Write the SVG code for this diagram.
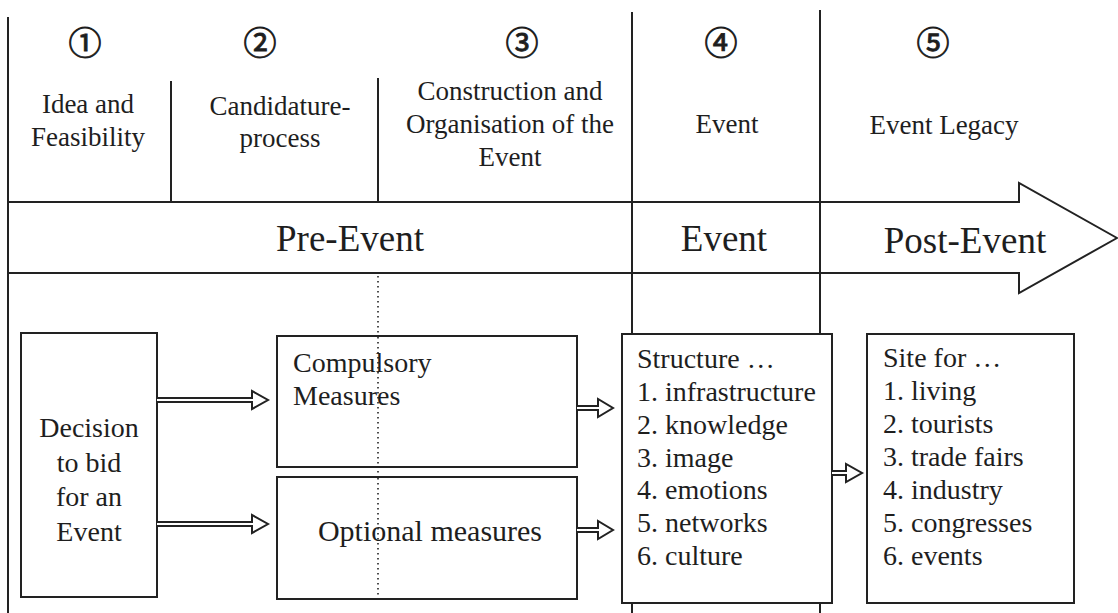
<svg xmlns="http://www.w3.org/2000/svg" width="1118" height="613" viewBox="0 0 1118 613">
<style>
.ln{stroke:#222;stroke-width:2;fill:none}
.box{stroke:#222;stroke-width:2;fill:#fff}
.dot{stroke:#222;stroke-width:1.6;stroke-dasharray:1.6 3.4;fill:none}
.conn{stroke:#222;stroke-width:2;fill:#fff;stroke-linejoin:miter}
text{font-family:"Liberation Serif","Times New Roman",serif;fill:#1e1e1e}
.hd{font-size:27px;text-anchor:middle}
.num{font-family:"Noto Sans CJK SC","DejaVu Sans",sans-serif;font-size:33px;text-anchor:middle;dominant-baseline:central;stroke:#1e1e1e;stroke-width:0.9}
.band{font-size:37px;text-anchor:middle}
.bx{font-size:28px}
.mid{text-anchor:middle}
</style>
<rect width="1118" height="613" fill="#fff"/>
<g id="grid">
<line class="ln" x1="8" y1="17" x2="8" y2="613"/>
<line class="ln" x1="171" y1="81" x2="171" y2="202"/>
<line class="ln" x1="378" y1="78" x2="378" y2="202"/>
<line class="dot" x1="378" y1="276" x2="378" y2="596"/>
<line class="ln" x1="632" y1="12" x2="632" y2="613"/>
<line class="ln" x1="820" y1="10" x2="820" y2="613"/>
</g>
<g id="phase-arrow">
<path class="ln" d="M8,202 H1019 V183 L1117,238 L1019,293 V273 H8"/>
<line class="ln" x1="632" y1="202" x2="632" y2="273"/>
<line class="ln" x1="820" y1="202" x2="820" y2="273"/>
<text class="band" x="350" y="251">Pre-Event</text>
<text class="band" x="724" y="251">Event</text>
<text class="band" x="965" y="253">Post-Event</text>
</g>
<g id="phase1">
<text class="num" x="85" y="41">①</text>
<text class="hd" x="88" y="113">Idea and</text>
<text class="hd" x="88" y="146">Feasibility</text>
</g>
<g id="phase2">
<text class="num" x="260" y="41">②</text>
<text class="hd" x="280" y="115">Candidature-</text>
<text class="hd" x="280" y="147">process</text>
</g>
<g id="phase3">
<text class="num" x="522" y="41">③</text>
<text class="hd" x="510" y="100">Construction and</text>
<text class="hd" x="510" y="133">Organisation of the</text>
<text class="hd" x="510" y="166">Event</text>
</g>
<g id="phase4">
<text class="num" x="721" y="41">④</text>
<text class="hd" x="727" y="133">Event</text>
</g>
<g id="phase5">
<text class="num" x="933" y="41">⑤</text>
<text class="hd" x="944" y="134">Event Legacy</text>
</g>
<g id="decision">
<rect class="box" x="21" y="333" width="136" height="264"/>
<text class="bx mid" x="89" y="437">Decision</text>
<text class="bx mid" x="89" y="472">to bid</text>
<text class="bx mid" x="89" y="506">for an</text>
<text class="bx mid" x="89" y="541">Event</text>
</g>
<g id="compulsory">
<rect class="box" x="277" y="336" width="300" height="131"/>
<line class="dot" x1="378" y1="337" x2="378" y2="466"/>
<text class="bx" x="293" y="372">Compulsory</text>
<text class="bx" x="293" y="405">Measures</text>
</g>
<g id="optional">
<rect class="box" x="277" y="477" width="300" height="122"/>
<line class="dot" x1="378" y1="478" x2="378" y2="596"/>
<text class="mid" x="430" y="541" font-size="30">Optional measures</text>
</g>
<g id="structure">
<rect class="box" x="622" y="334" width="210" height="269"/>
<text class="bx" x="637" y="368">Structure …</text>
<text class="bx" x="637" y="401">1. infrastructure</text>
<text class="bx" x="637" y="434">2. knowledge</text>
<text class="bx" x="637" y="467">3. image</text>
<text class="bx" x="637" y="499">4. emotions</text>
<text class="bx" x="637" y="532">5. networks</text>
<text class="bx" x="637" y="565">6. culture</text>
</g>
<g id="site">
<rect class="box" x="867" y="334" width="207" height="269"/>
<text class="bx" x="883" y="367">Site for …</text>
<text class="bx" x="883" y="400">1. living</text>
<text class="bx" x="883" y="433">2. tourists</text>
<text class="bx" x="883" y="466">3. trade fairs</text>
<text class="bx" x="883" y="499">4. industry</text>
<text class="bx" x="883" y="532">5. congresses</text>
<text class="bx" x="883" y="565">6. events</text>
</g>
<g id="connectors">
<path class="conn" d="M157,398 H252 V391 L268,400 L252,409 V402 H157"/>
<path class="conn" d="M157,522 H252 V515 L268,524 L252,533 V526 H157"/>
<path class="conn" d="M577,406 H598 V399 L613,408 L598,417 V410 H577"/>
<path class="conn" d="M577,528 H598 V521 L613,530 L598,539 V532 H577"/>
<path class="conn" d="M832,471 H846 V464 L862,473 L846,482 V475 H832"/>
</g>
</svg>
